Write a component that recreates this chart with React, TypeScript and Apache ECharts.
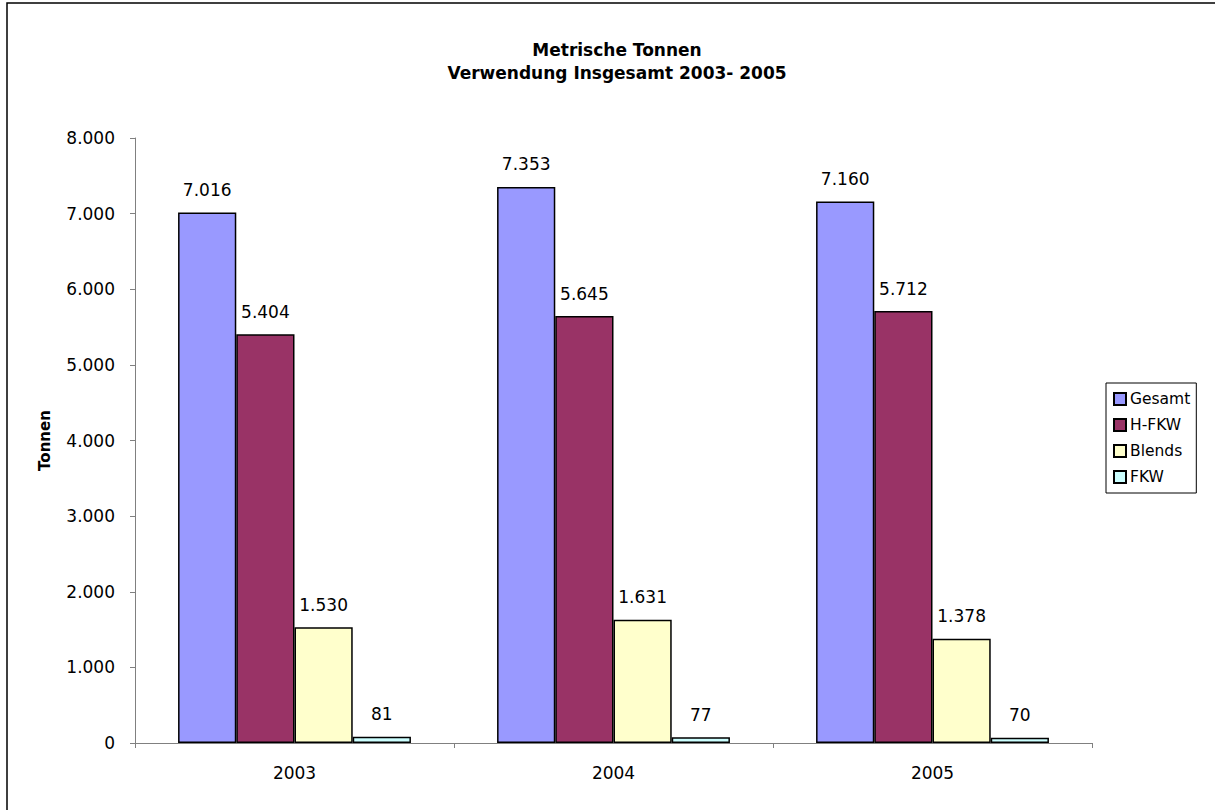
import React, { useEffect, useRef } from "react";
import * as echarts from "echarts";

const categories = ["2003", "2004", "2005"];
const seriesNames = ["Gesamt", "H-FKW", "Blends", "FKW"];
const gesamt = [7016, 7353, 7160];
const hfkw = [5404, 5645, 5712];
const blends = [1530, 1631, 1378];
const fkw = [81, 77, 70];
const colors = ["#9999FF", "#993366", "#FFFFCC", "#CCFFFF"];

const FONT = "'DejaVu Sans', sans-serif";

function fmt(v: number): string {
  return String(v).replace(/\B(?=(\d{3})+(?!\d))/g, ".");
}

export default function App() {
  const ref = useRef<HTMLDivElement>(null);
  useEffect(() => {
    document.body.style.margin = "0";
    const chart = echarts.init(ref.current!, null, { renderer: "svg" });
    const data = [gesamt, hfkw, blends, fkw];
    chart.setOption({
      animation: false,
      backgroundColor: "#ffffff",
      textStyle: { fontFamily: FONT },
      graphic: [
        {
          type: "rect",
          shape: { x: 7, y: 3, width: 1250, height: 850 },
          style: { fill: "none", stroke: "#000", lineWidth: 1.5 },
          silent: true,
          z: -10,
        },
      ],
      title: {
        text: "Metrische Tonnen\nVerwendung Insgesamt 2003- 2005",
        left: 612,
        top: 33,
        textAlign: "center",
        textStyle: {
          fontFamily: FONT,
          fontSize: 17,
          fontWeight: "bold",
          color: "#000",
          lineHeight: 23,
        },
      },
      legend: {
        orient: "vertical",
        left: 1106,
        top: 383,
        width: 91,
        data: seriesNames,
        itemWidth: 12,
        itemHeight: 12,
        itemGap: 10,
        padding: [8, 6, 8, 7],
        borderColor: "#000",
        borderWidth: 1,
        icon: "rect",
        textStyle: { fontFamily: FONT, fontSize: 15.5, color: "#000", padding: [0, 0, 0, -1] },
      },
      grid: { left: 135, right: 123, top: 138, bottom: 67 },
      xAxis: {
        type: "category",
        data: categories,
        axisLine: { lineStyle: { color: "#808080", width: 1 } },
        axisTick: { show: true, length: 5, lineStyle: { color: "#808080" } },
        axisLabel: { fontFamily: FONT, fontSize: 17, color: "#000", margin: 21 },
      },
      yAxis: {
        type: "value",
        min: 0,
        max: 8000,
        interval: 1000,
        name: "Tonnen",
        nameLocation: "middle",
        nameGap: 83,
        nameTextStyle: { fontFamily: FONT, fontSize: 15, fontWeight: "bold", color: "#000" },
        axisLine: { show: true, lineStyle: { color: "#808080", width: 1 } },
        axisTick: { show: true, length: 5, lineStyle: { color: "#808080" } },
        splitLine: { show: false },
        axisLabel: {
          fontFamily: FONT,
          fontSize: 17,
          color: "#000",
          margin: 20,
          formatter: (v: number) => fmt(v),
        },
      },
      series: seriesNames.map((name, i) => ({
        name,
        type: "bar",
        data: data[i],
        barCategoryGap: "27%",
        barGap: "0%",
        itemStyle: { color: colors[i], borderColor: "#000", borderWidth: 1.5 },
        label: {
          show: true,
          position: "top",
          distance: 14,
          fontFamily: FONT,
          fontSize: 17,
          color: "#000",
          formatter: (p: any) => fmt(p.value),
        },
      })),
    });
    return () => chart.dispose();
  }, []);
  return <div ref={ref} style={{ width: 1215, height: 810 }} />;
}
